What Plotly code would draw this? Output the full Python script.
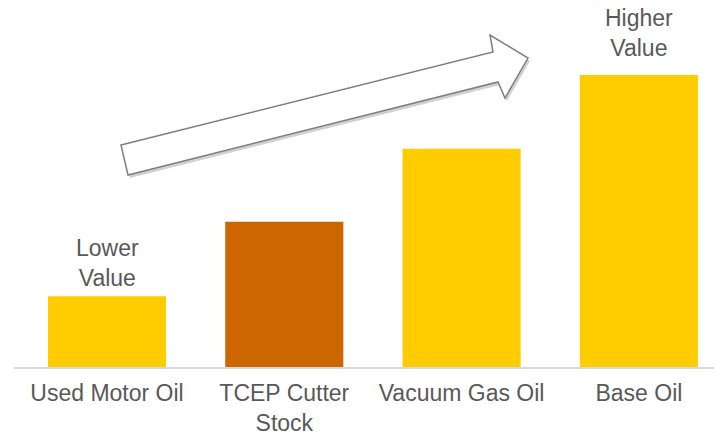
import plotly.graph_objects as go

categories = ["Used Motor Oil", "TCEP Cutter<br>Stock", "Vacuum Gas Oil", "Base Oil"]
values = [0.97, 1.99, 2.99, 4.0]
colors = ["#FFCC00", "#CC6600", "#FFCC00", "#FFCC00"]

W, H = 714, 435
ML, MR, MT, MB = 14, 0, 0, 68

fig = go.Figure(go.Bar(x=list(range(len(categories))), y=values, marker_color=colors,
                       marker_line_width=0, width=0.666))

# arrow outline in pixel space, converted to paper coords
arrow_px = [(121, 145), (493, 52), (490, 35), (528, 58), (505, 98), (498, 82), (128, 175)]
pw, ph = W - ML - MR, H - MT - MB

def to_paper(px, py, dx=0, dy=0):
    return (px + dx - ML) / pw, (H - MB - (py + dy)) / ph

def path(dx=0, dy=0):
    pts = [to_paper(x, y, dx, dy) for x, y in arrow_px]
    return "M " + " L ".join(f"{x:.5f},{y:.5f}" for x, y in pts) + " Z"

fig.add_shape(type="path", xref="paper", yref="paper", path=path(2, 3),
              fillcolor="rgba(0,0,0,0.18)", line=dict(width=0), layer="above")
fig.add_shape(type="path", xref="paper", yref="paper", path=path(),
              fillcolor="white", line=dict(color="#7f7f7f", width=1.5), layer="above")

fig.add_annotation(x=0, y=values[0], text="Lower<br>Value", showarrow=False,
                   yanchor="bottom", yshift=3, font=dict(size=23, color="#595959"))
fig.add_annotation(x=3, y=values[3], text="Higher<br>Value", showarrow=False,
                   yanchor="bottom", yshift=12, font=dict(size=23, color="#595959"))

x0 = 107
step = 177.3
fig.update_layout(
    width=W, height=H, margin=dict(l=ML, r=MR, t=MT, b=MB, autoexpand=False),
    plot_bgcolor="white", paper_bgcolor="white", showlegend=False,
    font=dict(family="Liberation Sans, Arial, sans-serif", color="#595959", size=23),
    xaxis=dict(range=[-(x0 - ML) / step, (W - MR - x0) / step],
               tickvals=list(range(len(categories))), ticktext=categories,
               showgrid=False, zeroline=False, showline=True, linecolor="#d9d9d9",
               linewidth=2, ticks="", ticklabelstandoff=4, automargin=False,
               tickfont=dict(size=23, color="#595959")),
    yaxis=dict(range=[0, 367 / 73], visible=False, showgrid=False, automargin=False),
)
fig.write_html("out.html")
